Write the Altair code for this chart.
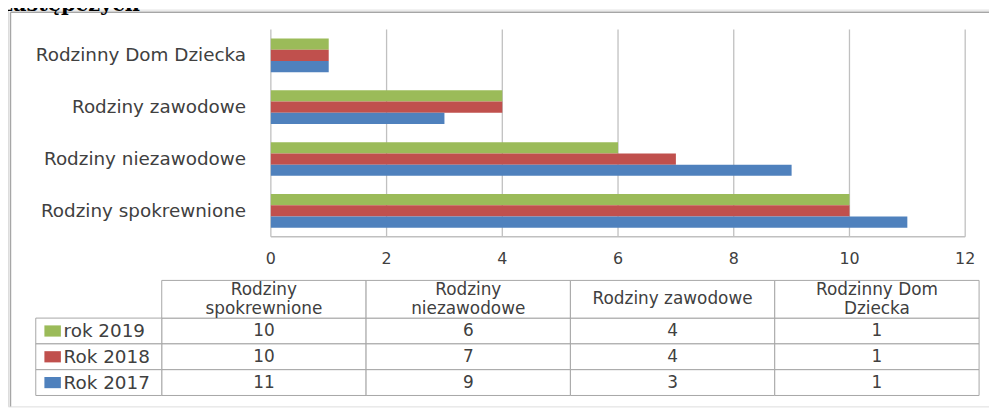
import altair as alt
import pandas as pd

# ---- data ----
categories = ["Rodziny spokrewnione", "Rodziny niezawodowe", "Rodziny zawodowe", "Rodzinny Dom Dziecka"]
header_labels = ["Rodziny\nspokrewnione", "Rodziny\nniezawodowe", "Rodziny zawodowe", "Rodzinny Dom\nDziecka"]
series = ["rok 2019", "Rok 2018", "Rok 2017"]
values_2019 = [10, 6, 4, 1]
values_2018 = [10, 7, 4, 1]
values_2017 = [11, 9, 3, 1]
x_ticks = [0, 2, 4, 6, 8, 10, 12]
colors = ["#9BBB59", "#C0504D", "#4F81BD"]
title_text = "zastępczych"

rows = []
for s, vals in zip(series, [values_2019, values_2018, values_2017]):
    for c, v in zip(categories, vals):
        rows.append({"category": c, "series": s, "value": v})
df = pd.DataFrame(rows)
df_ticks = pd.DataFrame({"t": x_ticks})
df_axis = pd.DataFrame({"a": [min(x_ticks)], "b": [max(x_ticks)]})
df_cat = pd.DataFrame({
    "category": categories,
    "header": header_labels,
    "nlines": [h.count("\n") + 1 for h in header_labels],
})
df_series = pd.DataFrame({"series": series})
one = alt.Data(values=[{}])

TXT = "#404040"
GRID = "#c0c0c0"
BORDER = "#a6a6a6"
FONT = "DejaVu Sans"

# scales
xq = alt.Scale(domain=[min(x_ticks), max(x_ticks)], range=[265, 965], nice=False, zero=False)
cat_order = list(reversed(categories))
ybar = alt.Scale(domain=cat_order, range=[20, 229], paddingInner=0.35, paddingOuter=0.175)
color_scale = alt.Scale(domain=series, range=colors)
tx = alt.Scale(domain=categories, range=[155, 979], paddingInner=0, paddingOuter=0)
ty = alt.Scale(domain=series, range=[311, 389], paddingInner=0, paddingOuter=0)
# header text block: first line placed so that the block is centred in the header row
yhead = alt.Scale(type="point", domain=[1, 2], range=[292, 283], padding=0)

# frame
frame_top = alt.Chart(one).mark_rule(color=BORDER, strokeWidth=1.5).encode(
    x=alt.value(2.5), x2=alt.value(989), y=alt.value(2.7))
frame_left = alt.Chart(one).mark_rule(color=BORDER, strokeWidth=1.5).encode(
    x=alt.value(2.5), y=alt.value(2.7), y2=alt.value(400))

title = alt.Chart(one).mark_text(font="DejaVu Serif", fontWeight="bold", fontSize=21,
                                 align="left", baseline="alphabetic", color="black").encode(
    x=alt.value(-7), y=alt.value(1.5), text=alt.value(title_text))

grid = alt.Chart(df_ticks).mark_rule(color=GRID, strokeWidth=1.3).encode(
    x=alt.X("t:Q", scale=xq, axis=None), y=alt.value(20), y2=alt.value(229))
base_line = alt.Chart(df_axis).mark_rule(color=GRID, strokeWidth=1.3).encode(
    x=alt.X("a:Q", scale=xq, axis=None), x2="b:Q", y=alt.value(229))
tick_labels = alt.Chart(df_ticks).mark_text(font=FONT, fontSize=16, color=TXT, baseline="middle").encode(
    x=alt.X("t:Q", scale=xq, axis=None), y=alt.value(251), text="t:Q")

bars = alt.Chart(df).mark_bar().encode(
    x=alt.X("value:Q", scale=xq, axis=None),
    y=alt.Y("category:N", scale=ybar, axis=None),
    yOffset=alt.YOffset("series:N", scale=alt.Scale(domain=series, paddingInner=0, paddingOuter=0)),
    color=alt.Color("series:N", scale=color_scale, legend=None),
)
cat_labels = alt.Chart(df_cat).mark_text(font=FONT, fontSize=18.5, color=TXT, align="right", baseline="middle").encode(
    y=alt.Y("category:N", scale=ybar, axis=None), x=alt.value(240), text="category:N")

# table
cells = alt.Chart(df).mark_rect(fill="white", stroke=BORDER, strokeWidth=1).encode(
    x=alt.X("category:N", scale=tx, axis=None), y=alt.Y("series:N", scale=ty, axis=None))
head_cells = alt.Chart(df_cat).mark_rect(fill="white", stroke=BORDER, strokeWidth=1).encode(
    x=alt.X("category:N", scale=tx, axis=None), y=alt.value(273), y2=alt.value(311))
leg_cells = alt.Chart(df_series).mark_rect(fill="white", stroke=BORDER, strokeWidth=1).encode(
    y=alt.Y("series:N", scale=ty, axis=None), x=alt.value(28), x2=alt.value(155))
nums = alt.Chart(df).mark_text(font=FONT, fontSize=17, color=TXT, baseline="middle").encode(
    x=alt.X("category:N", scale=tx, axis=None), y=alt.Y("series:N", scale=ty, axis=None), text="value:Q")
heads = alt.Chart(df_cat).mark_text(font=FONT, fontSize=17, color=TXT, baseline="middle",
                                    lineBreak="\n", lineHeight=19).encode(
    x=alt.X("category:N", scale=tx, axis=None),
    y=alt.Y("nlines:O", scale=yhead, axis=None),
    text="header:N")
swatches = alt.Chart(df_series).mark_point(shape="M-1,-0.68H1V0.68H-1Z", filled=True, size=276, opacity=1).encode(
    x=alt.value(45), y=alt.Y("series:N", scale=ty, axis=None),
    color=alt.Color("series:N", scale=color_scale, legend=None))
leg_labels = alt.Chart(df_series).mark_text(font=FONT, fontSize=18.5, color=TXT, align="left", baseline="middle").encode(
    x=alt.value(56), y=alt.Y("series:N", scale=ty, axis=None), text="series:N")

chart = alt.layer(
    frame_top, frame_left, title, grid, base_line, tick_labels, bars, cat_labels,
    cells, head_cells, leg_cells, nums, heads, swatches, leg_labels,
).resolve_scale(x="independent", y="independent").properties(
    width=989, height=400, autosize=alt.AutoSizeParams(type="none"), padding=0,
).configure_view(stroke=None).configure(background="white")

chart.save("out.html", embed_options={"renderer": "svg", "actions": False})
